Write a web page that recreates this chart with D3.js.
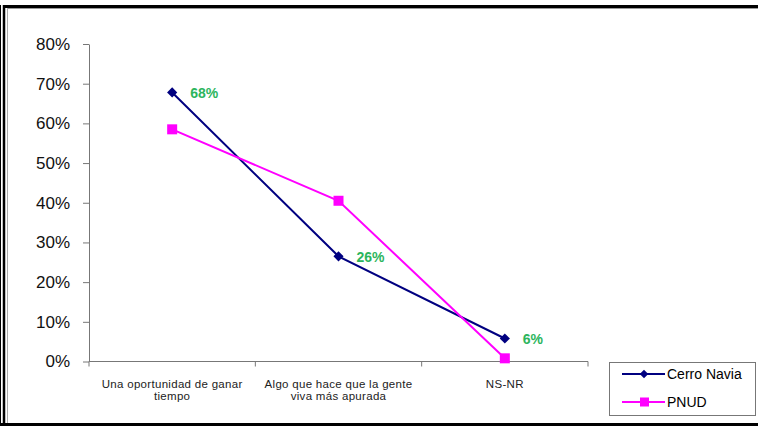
<!DOCTYPE html>
<html><head><meta charset="utf-8">
<script src="https://cdn.jsdelivr.net/npm/d3@7"></script>
<style>body{margin:0;background:#fff}svg{display:block}</style>
</head><body>
<script>
const categories = [["Una oportunidad de ganar","tiempo"],["Algo que hace que la gente","viva más apurada"],["NS-NR"]];
const seriesNames = ["Cerro Navia","PNUD"];
const cerroNavia = [0.678, 0.265, 0.058];
const pnud = [0.585, 0.405, 0.008];
const labelValues = ["68%","26%","6%"];
const yTicks = [0,0.1,0.2,0.3,0.4,0.5,0.6,0.7,0.8];
const colors = ["#000080","#ff00ff"];

const W=758,H=426;
const svg=d3.select("body").append("svg").attr("width",W).attr("height",H);
svg.append("rect").attr("width",W).attr("height",H).attr("fill","#fff");
// frame
svg.append("line").attr("x1",4).attr("x2",W).attr("y1",6.5).attr("y2",6.5).attr("stroke","#000").attr("stroke-width",3);
svg.append("line").attr("x1",8).attr("x2",W).attr("y1",8.5).attr("y2",8.5).attr("stroke","#999").attr("stroke-width",1);
svg.append("line").attr("x1",4).attr("x2",4).attr("y1",5).attr("y2",H).attr("stroke","#000").attr("stroke-width",2.5);
svg.append("line").attr("x1",0.5).attr("x2",0.5).attr("y1",5).attr("y2",H).attr("stroke","#000").attr("stroke-width",1);
svg.append("line").attr("x1",7.5).attr("x2",7.5).attr("y1",8).attr("y2",H).attr("stroke","#aaa").attr("stroke-width",1);
svg.append("line").attr("x1",0).attr("x2",W).attr("y1",424.5).attr("y2",424.5).attr("stroke","#000").attr("stroke-width",3);

const x0=89,x1=588,yTop=44,yBot=361.5;
const x=d3.scaleBand().domain(d3.range(categories.length)).range([x0,x1]);
const y=d3.scaleLinear().domain([0,0.8]).range([yBot,yTop]);

// y axis
const ya=svg.append("g").attr("transform",`translate(${x0},0)`)
  .call(d3.axisLeft(y).tickValues(yTicks).tickFormat(d3.format(".0%")).tickSize(6).tickSizeOuter(0));
ya.select(".domain").attr("stroke","#777");
ya.selectAll(".tick line").attr("stroke","#777");
ya.selectAll("text").attr("font-family","Liberation Sans, Arial").attr("font-size",17).attr("fill","#111").attr("x",-19);
ya.selectAll(".tick").attr("transform",d=>`translate(0,${y(d)+0.5})`);

// x axis
const xa=svg.append("g").attr("transform",`translate(0,${yBot})`);
xa.append("line").attr("x1",x0).attr("x2",x1).attr("stroke","#777");
d3.range(categories.length+1).forEach(i=>{
  const xx=x0+i*x.bandwidth();
  xa.append("line").attr("x1",xx).attr("x2",xx).attr("y1",0).attr("y2",5).attr("stroke","#777");
});
categories.forEach((c,i)=>{
  const t=svg.append("text").attr("text-anchor","middle").attr("font-family","Liberation Sans, Arial").attr("font-size",11.5).attr("letter-spacing",0.3).attr("fill","#222");
  c.forEach((ln,j)=>t.append("tspan").attr("x",x(i)+x.bandwidth()/2).attr("y",388+j*12).text(ln));
});

const cx=i=>x(i)+x.bandwidth()/2;
const line=d3.line().x((d,i)=>cx(i)).y(d=>y(d));
[cerroNavia,pnud].forEach((s,k)=>{
  svg.append("path").datum(s).attr("d",line).attr("fill","none").attr("stroke",colors[k]).attr("stroke-width",2);
});
// markers
pnud.forEach((v,i)=>svg.append("rect").attr("x",cx(i)-5).attr("y",y(v)-5).attr("width",10).attr("height",10).attr("fill",colors[1]));
cerroNavia.forEach((v,i)=>svg.append("rect").attr("x",-3.6).attr("y",-3.6).attr("width",7.2).attr("height",7.2).attr("transform",`translate(${cx(i)},${y(v)}) rotate(45)`).attr("fill",colors[0]));
// labels
cerroNavia.forEach((v,i)=>svg.append("text").attr("x",cx(i)+18).attr("y",y(v)+6).attr("font-family","Liberation Sans, Arial").attr("font-weight","bold").attr("font-size",14).attr("fill","#2db55d").text(labelValues[i]));

// legend
const lg=svg.append("g");
lg.append("rect").attr("x",609.5).attr("y",362.5).attr("width",146).attr("height",53).attr("fill","#fff").attr("stroke","#777");
seriesNames.forEach((n,k)=>{
  const yy=374+k*28;
  lg.append("line").attr("x1",622).attr("x2",665).attr("y1",yy).attr("y2",yy).attr("stroke",colors[k]).attr("stroke-width",2);
  if(k==0) lg.append("rect").attr("x",-3).attr("y",-3).attr("width",6).attr("height",6).attr("transform",`translate(644,${yy}) rotate(45)`).attr("fill",colors[0]);
  else lg.append("rect").attr("x",640).attr("y",yy-4.5).attr("width",9).attr("height",9).attr("fill",colors[1]);
  lg.append("text").attr("x",667).attr("y",yy+5).attr("font-family","Liberation Sans, Arial").attr("font-size",14).attr("fill","#000").text(n);
});
</script>
</body></html>
